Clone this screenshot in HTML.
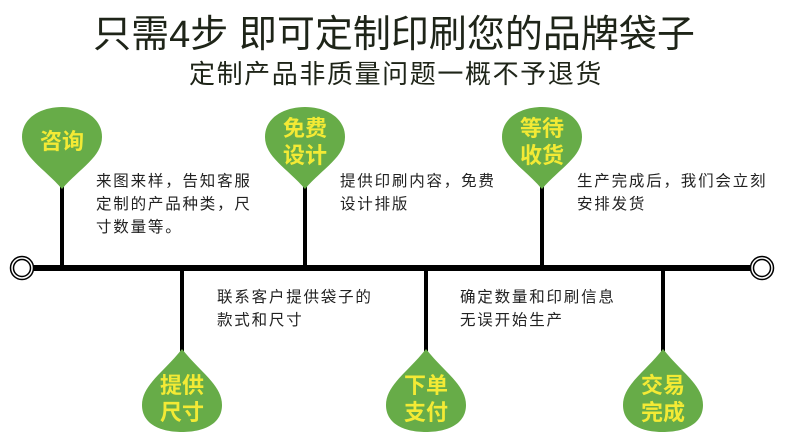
<!DOCTYPE html>
<html><head><meta charset="utf-8"><style>
body{margin:0;width:790px;height:445px;background:#fff;overflow:hidden;font-family:"Liberation Sans","Noto Sans CJK SC",sans-serif;}
</style></head><body>
<svg width="790" height="445" xmlns="http://www.w3.org/2000/svg" style="display:block">
<g font-family="Liberation Sans, Noto Sans CJK SC, sans-serif">
<text x="394" y="47" font-size="38" fill="#1e2418" text-anchor="middle">只需4步 即可定制印刷您的品牌袋子</text>
<text x="396" y="83" font-size="26" fill="#1e2418" text-anchor="middle" letter-spacing="1.6">定制产品非质量问题一概不予退货</text>

<line x1="30" y1="268" x2="752" y2="268" stroke="#000" stroke-width="6"/>
<circle cx="22" cy="268" r="11.5" fill="#fff" stroke="#000" stroke-width="1.5"/>
<circle cx="22" cy="268" r="8.5" fill="#fff" stroke="#000" stroke-width="1.5"/>
<circle cx="762" cy="268" r="11.5" fill="#fff" stroke="#000" stroke-width="1.5"/>
<circle cx="762" cy="268" r="8.5" fill="#fff" stroke="#000" stroke-width="1.5"/>

<g stroke="#000" stroke-width="4">
<line x1="62" y1="185" x2="62" y2="268"/>
<line x1="305" y1="185" x2="305" y2="268"/>
<line x1="542" y1="185" x2="542" y2="268"/>
<line x1="182" y1="268" x2="182" y2="352"/>
<line x1="426" y1="268" x2="426" y2="352"/>
<line x1="663" y1="268" x2="663" y2="352"/>
</g>

<g fill="#67ac48">
<path transform="translate(62,0)" d="M0,189 C-18,168 -40,157 -40,137 C-40,117 -20,107 0,107 C20,107 40,117 40,137 C40,157 18,168 0,189Z"/>
<path transform="translate(305,0)" d="M0,189 C-18,168 -40,157 -40,137 C-40,117 -20,107 0,107 C20,107 40,117 40,137 C40,157 18,168 0,189Z"/>
<path transform="translate(542,0)" d="M0,189 C-18,168 -40,157 -40,137 C-40,117 -20,107 0,107 C20,107 40,117 40,137 C40,157 18,168 0,189Z"/>
<path transform="translate(182,0)" d="M0,349 C-18,372 -40,385 -40,405 C-40,425 -20,432 0,432 C20,432 40,425 40,405 C40,385 18,372 0,349Z"/>
<path transform="translate(426,0)" d="M0,349 C-18,372 -40,385 -40,405 C-40,425 -20,432 0,432 C20,432 40,425 40,405 C40,385 18,372 0,349Z"/>
<path transform="translate(663,0)" d="M0,349 C-18,372 -40,385 -40,405 C-40,425 -20,432 0,432 C20,432 40,425 40,405 C40,385 18,372 0,349Z"/>
</g>

<g fill="#f3ea35" font-size="22" font-weight="bold" text-anchor="middle">
<text x="62" y="149">咨询</text>
<text x="305" y="136">免费</text><text x="305" y="163">设计</text>
<text x="542" y="136">等待</text><text x="542" y="163">收货</text>
<text x="182" y="393">提供</text><text x="182" y="420">尺寸</text>
<text x="426" y="393">下单</text><text x="426" y="420">支付</text>
<text x="663" y="393">交易</text><text x="663" y="420">完成</text>
</g>

<g fill="#222" font-size="15.5" letter-spacing="1.8">
<text x="96" y="186">来图来样，告知客服</text>
<text x="96" y="209">定制的产品种类，尺</text>
<text x="96" y="232">寸数量等。</text>
<text x="340" y="186">提供印刷内容，免费</text>
<text x="340" y="209">设计排版</text>
<text x="577" y="186">生产完成后，我们会立刻</text>
<text x="577" y="209">安排发货</text>
<text x="217" y="302">联系客户提供袋子的</text>
<text x="217" y="325">款式和尺寸</text>
<text x="460" y="302">确定数量和印刷信息</text>
<text x="460" y="325">无误开始生产</text>
</g>
</g>
</svg>
</body></html>
